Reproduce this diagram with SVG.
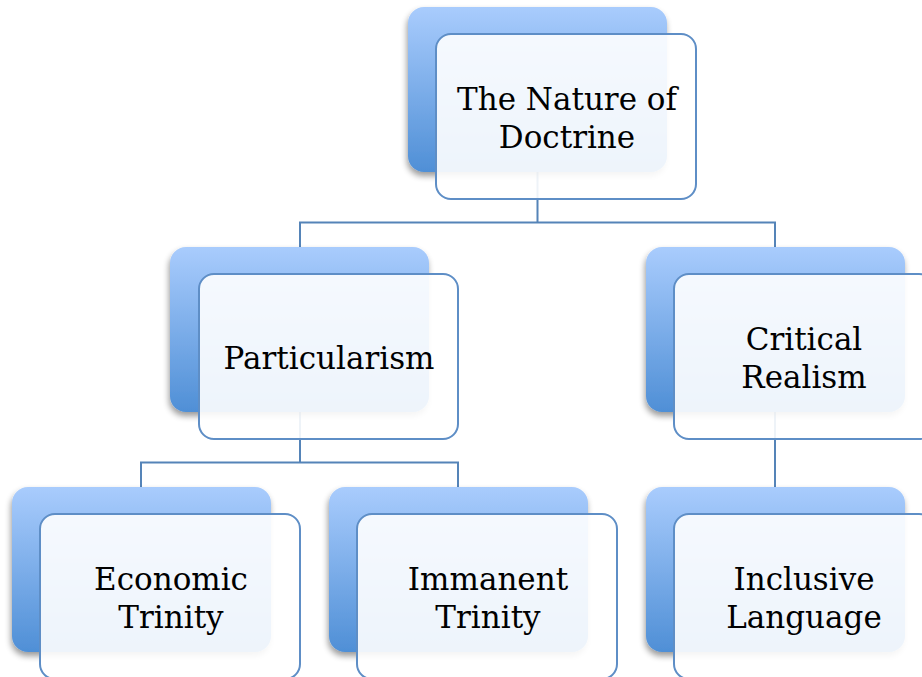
<svg xmlns="http://www.w3.org/2000/svg" width="922" height="677" viewBox="0 0 922 677">
<defs>
<linearGradient id="bg" x1="0" y1="0" x2="0" y2="1">
<stop offset="0" stop-color="#a9ccfd"/>
<stop offset="1" stop-color="#4f8fd6"/>
</linearGradient>
<filter id="sh" x="-10%" y="-10%" width="120%" height="130%">
<feGaussianBlur in="SourceAlpha" stdDeviation="3"/>
<feOffset dx="-1" dy="4" result="b"/>
<feComponentTransfer><feFuncA type="linear" slope="0.4"/></feComponentTransfer>
<feMerge><feMergeNode/><feMergeNode in="SourceGraphic"/></feMerge>
</filter>
</defs>
<style>
.back{fill:url(#bg);filter:url(#sh);}
.front{fill:#ffffff;fill-opacity:0.9;stroke:#5e8ec6;stroke-width:2;}
.conn{fill:none;stroke:#5584b8;stroke-width:2;}
text{font-family:"DejaVu Serif","Liberation Serif",serif;font-size:31px;fill:#000;text-anchor:middle;}
</style>
<rect width="922" height="677" fill="#ffffff"/>
<g id="connectors">
<path class="conn" d="M537.5 172 V222.5 M300 247 V222.5 H775 V247"/>
<path class="conn" d="M300 412 V462.5 M141 487 V462.5 H458 V487"/>
<path class="conn" d="M775 412 V487"/>
</g>
<g id="node-nature">
<rect class="back" x="408" y="7" width="259" height="165" rx="16"/>
<rect class="front" x="436" y="34" width="260" height="165" rx="15"/>
<text x="567" y="110">The Nature of</text>
<text x="567" y="148">Doctrine</text>
</g>
<g id="node-particularism">
<rect class="back" x="170" y="247" width="259" height="165" rx="16"/>
<rect class="front" x="199" y="274" width="259" height="165" rx="15"/>
<text x="329" y="369">Particularism</text>
</g>
<g id="node-critical">
<rect class="back" x="646" y="247" width="259" height="165" rx="16"/>
<rect class="front" x="674" y="274" width="260" height="165" rx="15"/>
<text x="804" y="350">Critical</text>
<text x="804" y="388">Realism</text>
</g>
<g id="node-economic">
<rect class="back" x="12" y="487" width="259" height="165" rx="16"/>
<rect class="front" x="40" y="514" width="260" height="165" rx="15"/>
<text x="171" y="590">Economic</text>
<text x="171" y="628">Trinity</text>
</g>
<g id="node-immanent">
<rect class="back" x="329" y="487" width="259" height="165" rx="16"/>
<rect class="front" x="357" y="514" width="260" height="165" rx="15"/>
<text x="488" y="590">Immanent</text>
<text x="488" y="628">Trinity</text>
</g>
<g id="node-inclusive">
<rect class="back" x="646" y="487" width="259" height="165" rx="16"/>
<rect class="front" x="674" y="514" width="260" height="165" rx="15"/>
<text x="804" y="590">Inclusive</text>
<text x="804" y="628">Language</text>
</g>
</svg>
